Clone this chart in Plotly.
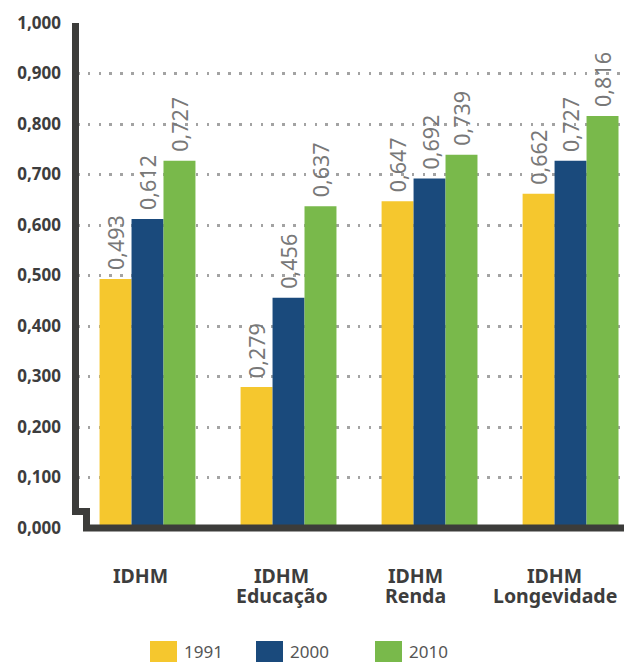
import plotly.graph_objects as go

# --- data -------------------------------------------------------------
categories = ["IDHM", "IDHM<br>Educação", "IDHM<br>Renda", "IDHM<br>Longevidade"]
years = ["1991", "2000", "2010"]
values_1991 = [0.493, 0.279, 0.647, 0.662]
values_2000 = [0.612, 0.456, 0.692, 0.727]
values_2010 = [0.727, 0.637, 0.739, 0.816]
y_tick_values = [0.0, 0.1, 0.2, 0.3, 0.4, 0.5, 0.6, 0.7, 0.8, 0.9, 1.0]
y_tick_labels = ["0,000", "0,100", "0,200", "0,300", "0,400", "0,500",
                 "0,600", "0,700", "0,800", "0,900", "1,000"]

# --- style ------------------------------------------------------------
colors = ["#F5C72E", "#1A4A7C", "#79B94B"]
axis_color = "#3C3C3A"
text_dark = "#3D3D3D"
label_gray = "#787878"
FONT = "Noto Sans"
BARGAP = 0.32

W_FIG, H_FIG = 624, 662
L, R, T, B = 77, 624, 23, 528          # plot area in pixels
PW, PH = R - L, B - T


def px_x(px):
    return (px - L) / PW


def px_y(py):
    return (B - py) / PH


def fmt(v):
    return f"{v:.3f}".replace(".", ",")


series = [values_1991, values_2000, values_2010]
fig = go.Figure()
for name, vals, col in zip(years, series, colors):
    fig.add_trace(go.Bar(
        x=list(range(len(categories))),
        y=vals,
        name=name,
        marker=dict(color=col, line=dict(width=0)),
        showlegend=False,
    ))

annotations = []

# rotated value labels sitting above each bar (grouped-bar offsets)
group_w = 1 - BARGAP
bar_w = group_w / len(series)
for k, vals in enumerate(series):
    offset = -group_w / 2 + bar_w * (k + 0.5)
    for i, v in enumerate(vals):
        annotations.append(dict(
            x=i + offset, xref="x", y=v, yref="y",
            text=fmt(v), textangle=-90, showarrow=False,
            xanchor="center", yanchor="bottom", yshift=8, borderpad=0,
            font=dict(family=FONT, size=21.5, color=label_gray),
        ))

# broken-axis style frame on the left and bottom
frame_path = (
    f"M {px_x(75.5)},{px_y(23)} "
    f"L {px_x(75.5)},{px_y(511.5)} "
    f"L {px_x(86.5)},{px_y(511.5)} "
    f"L {px_x(86.5)},{px_y(528)} "
    f"L {px_x(624)},{px_y(528)}"
)
shapes = [dict(type="path", xref="paper", yref="paper", path=frame_path,
               line=dict(color=axis_color, width=7), layer="above")]

# category labels, one line per annotation for tight line spacing
label_shift = [-7, -7, -14, -16]
for i, cat in enumerate(categories):
    for j, line in enumerate(cat.split("<br>")):
        annotations.append(dict(
            x=i, xref="x", y=px_y(575 + 20 * j), yref="paper",
            text=line, showarrow=False, xanchor="center", yanchor="middle",
            xshift=label_shift[i], borderpad=0,
            font=dict(family=FONT, size=19.5, color=text_dark, weight="bold"),
        ))

# legend drawn as swatches + text
legend_left = [150, 256, 375]
for name, col, lx in zip(years, colors, legend_left):
    shapes.append(dict(type="rect", xref="paper", yref="paper",
                       x0=px_x(lx), x1=px_x(lx + 27),
                       y0=px_y(641), y1=px_y(662),
                       line=dict(width=0), fillcolor=col))
    annotations.append(dict(
        x=px_x(lx + 33), xref="paper", y=px_y(651), yref="paper",
        text=name, showarrow=False, xanchor="left", yanchor="middle",
        borderpad=0,
        font=dict(family=FONT, size=17, color="#555555"),
    ))

fig.update_layout(
    width=W_FIG, height=H_FIG,
    margin=dict(l=L, r=W_FIG - R, t=T, b=H_FIG - B, pad=0),
    paper_bgcolor="white", plot_bgcolor="white",
    barmode="group", bargap=BARGAP, bargroupgap=0,
    shapes=shapes, annotations=annotations,
    xaxis=dict(range=[-0.5, 3.379], showticklabels=False, showgrid=False,
               zeroline=False, showline=False, ticks="", fixedrange=True),
    yaxis=dict(range=[0, 1], tickvals=y_tick_values, ticktext=y_tick_labels,
               showgrid=True, gridcolor="#A3A3A3", gridwidth=2.5,
               griddash="2.5px,8.3px", zeroline=False, showline=False,
               ticks="", ticklabelstandoff=15,
               tickfont=dict(family=FONT, size=17, color=text_dark, weight="bold"),
               fixedrange=True),
)

fig.write_html("out.html")
